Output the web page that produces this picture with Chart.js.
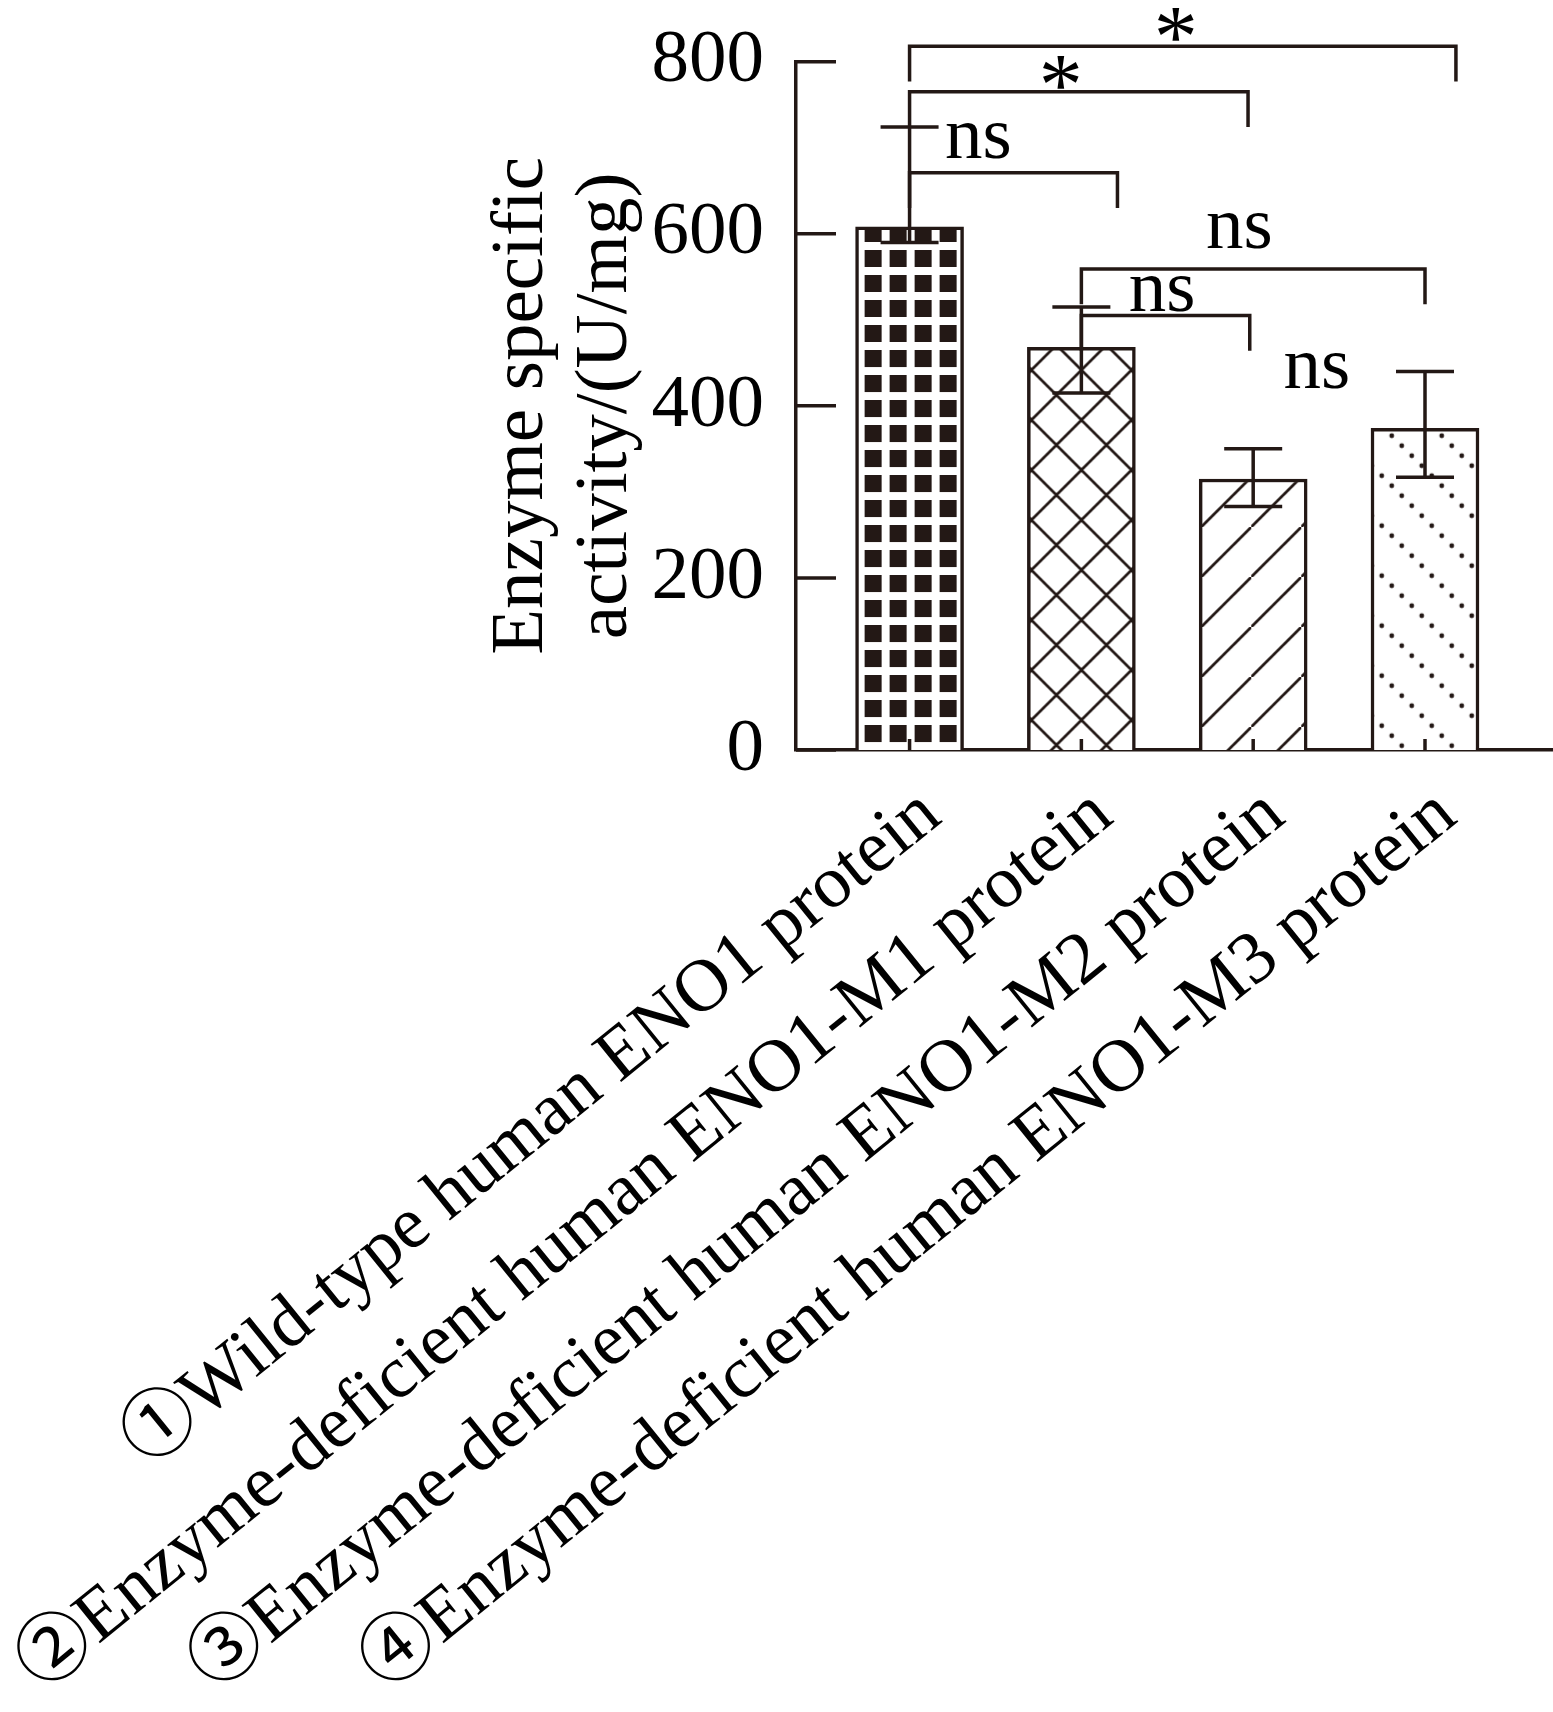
<!DOCTYPE html>
<html><head><meta charset="utf-8">
<script src="https://cdn.jsdelivr.net/npm/chart.js@4.4.1/dist/chart.umd.min.js"></script>
<style>html,body{margin:0;padding:0;background:#fff;overflow:hidden}#wrap{width:1553px;height:1712px;position:relative}</style>
</head><body><div id="wrap"><canvas id="c" width="1553" height="1712"></canvas></div>
<script>
// ---- data ----
const categories = [
  '①Wild-type human ENO1 protein',
  '②Enzyme-deficient human ENO1-M1 protein',
  '③Enzyme-deficient human ENO1-M2 protein',
  '④Enzyme-deficient human ENO1-M3 protein'
];
const means    = [608, 468, 315, 374];
const errUpper = [724, 515, 350, 440];
const errLower = [590, 415, 283, 317];
const yTickValues = [0, 200, 400, 600, 800];
const yTitle = ['Enzyme specific', 'activity/(U/mg)'];
// significance brackets (category units / U·mg-1)
const bracketFrom = [0, 0, 0, 1, 1];
const bracketTo   = [3.18, 1.97, 1.21, 3.0, 1.98];
const bracketY    = [818, 765, 671, 559, 505];
const textX = [1.55, 0.88, 0.40, 1.92, 1.47, 2.37];
const textY = [843, 788, 708, 603, 530, 441];
const textLabels = ['*', '*', 'ns', 'ns', 'ns', 'ns'];

// ---- styles ----
const ink = '#231815';
const txt = '#000000';
const serif = '"Liberation Serif", "Noto Sans CJK SC", "DejaVu Serif", serif';

function makePattern(w, h, draw) {
  const c = document.createElement('canvas');
  c.width = w; c.height = h;
  const g = c.getContext('2d');
  g.fillStyle = '#fff'; g.fillRect(0, 0, w, h);
  g.fillStyle = ink; g.strokeStyle = ink;
  draw(g, w, h);
  return document.getElementById('c').getContext('2d').createPattern(c, 'repeat');
}
const patSquares = makePattern(25, 25, g => { g.fillRect(4, 4, 17, 17); });
const patDiamond = makePattern(50, 50, g => {
  g.lineWidth = 2.7;
  g.beginPath(); g.moveTo(-5, -5); g.lineTo(55, 55); g.moveTo(55, -5); g.lineTo(-5, 55); g.stroke();
});
const patLines = makePattern(50, 50, g => {
  g.lineWidth = 2.7;
  g.beginPath(); g.moveTo(-5, 55); g.lineTo(55, -5); g.stroke();
});
const patDots = makePattern(50, 50, g => {
  for (let k = 0; k < 5; k++) { g.beginPath(); g.arc(5 + 10 * k, 5 + 10 * k, 2.4, 0, Math.PI * 2); g.fill(); }
});
const patterns = [patSquares, patDiamond, patLines, patDots];
const patOffset = [[5, -4], [54, -30], [2, -23], [-4.3, -39.3]];

const overlay = {
  id: 'overlay',
  beforeDatasetsDraw(chart) {
    const meta = chart.getDatasetMeta(0);
    meta.data.forEach((bar, i) => {
      const left = bar.x - bar.width / 2;
      patterns[i].setTransform(new DOMMatrix().translate(left + patOffset[i][0], bar.base + patOffset[i][1]));
    });
  },
  afterDatasetsDraw(chart) {
    const ctx = chart.ctx, xs = chart.scales.x, ys = chart.scales.y, ca = chart.chartArea;
    ctx.save();
    ctx.strokeStyle = ink; ctx.lineWidth = 3.5; ctx.lineCap = 'butt'; ctx.lineJoin = 'miter';
    // inward y ticks
    yTickValues.forEach(v => {
      const y = ys.getPixelForValue(v);
      ctx.beginPath(); ctx.moveTo(ca.left, y); ctx.lineTo(ca.left + 40, y); ctx.stroke();
    });
    // inward x ticks
    categories.forEach((c, i) => {
      const x = xs.getPixelForValue(i);
      ctx.beginPath(); ctx.moveTo(x, ca.bottom); ctx.lineTo(x, ca.bottom - 11); ctx.stroke();
    });
    // error bars
    means.forEach((m, i) => {
      const x = xs.getPixelForValue(i);
      const yu = ys.getPixelForValue(errUpper[i]);
      const yl = ys.getPixelForValue(errLower[i]);
      ctx.beginPath();
      ctx.moveTo(x, yu); ctx.lineTo(x, yl);
      ctx.moveTo(x - 29, yu); ctx.lineTo(x + 29, yu);
      ctx.moveTo(x - 29, yl); ctx.lineTo(x + 29, yl);
      ctx.stroke();
    });
    // brackets
    bracketY.forEach((by, k) => {
      const x1 = xs.getPixelForValue(bracketFrom[k]);
      const x2 = xs.getPixelForValue(bracketTo[k]);
      const y = ys.getPixelForValue(by);
      const yb = ys.getPixelForValue(by - 41);
      ctx.beginPath();
      ctx.moveTo(x1, yb); ctx.lineTo(x1, y); ctx.lineTo(x2, y); ctx.lineTo(x2, yb);
      ctx.stroke();
    });
    // labels (centred on glyph box)
    ctx.fillStyle = txt; ctx.textAlign = 'center'; ctx.textBaseline = 'alphabetic';
    textLabels.forEach((t, k) => {
      ctx.font = (t === '*' ? '88px ' : '75px ') + serif;
      const m = ctx.measureText(t);
      const x = xs.getPixelForValue(textX[k]);
      const yc = ys.getPixelForValue(textY[k]);
      const base = yc + (m.actualBoundingBoxAscent - m.actualBoundingBoxDescent) / 2;
      ctx.fillText(t, x, base);
    });
    ctx.restore();
  }
};

new Chart(document.getElementById('c'), {
  type: 'bar',
  data: {
    datasets: [{
      data: categories.map((c, i) => ({ x: i, y: means[i] })),
      backgroundColor: patterns,
      borderColor: ink,
      borderWidth: 3.5,
      barThickness: 108
    }]
  },
  options: {
    responsive: false,
    animation: false,
    events: [],
    layout: { padding: { top: 61.7, left: 0, right: 0, bottom: 0 } },
    plugins: { legend: { display: false }, tooltip: { enabled: false } },
    scales: {
      x: {
        type: 'linear',
        offset: false,
        min: -0.661, max: 3.745,
        grid: { display: false, drawTicks: false, offset: false },
        border: { display: true, color: ink, width: 3.5 },
        afterBuildTicks: s => { s.ticks = categories.map((c, i) => ({ value: i })); },
        afterFit: s => { s.height = 962; s.paddingLeft = 0; s.paddingRight = 0; },
        ticks: {
          autoSkip: false, minRotation: 39, maxRotation: 39,
          padding: 21, labelOffset: 22,
          color: txt,
          font: { family: serif, size: 74 },
          callback: v => categories[v]
        }
      },
      y: {
        min: 0, max: 800,
        grid: { display: false, drawTicks: false },
        border: { display: true, color: ink, width: 3.5 },
        afterFit: s => { s.width = 796; s.paddingTop = 0; s.paddingBottom = 0; },
        ticks: {
          stepSize: 200, padding: 32, color: txt,
          font: { family: serif, size: 75 }
        },
        title: {
          display: true, text: yTitle, color: txt,
          font: { family: serif, size: 75, lineHeight: 1.12 },
          padding: { top: 480, bottom: 0 }
        }
      }
    }
  },
  plugins: [overlay]
});
</script>
</body></html>
